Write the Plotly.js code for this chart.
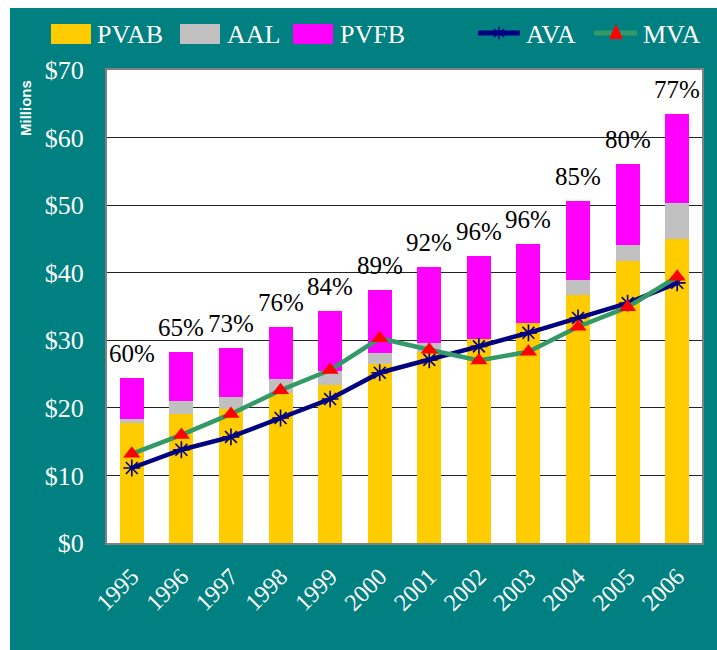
<!DOCTYPE html>
<html>
<head>
<meta charset="utf-8">
<script src="https://cdn.plot.ly/plotly-3.0.1.min.js"></script>
<style>
  html, body { margin: 0; padding: 0; background: #ffffff; }
  #chart { position: absolute; left: 10px; top: 8px; width: 707px; height: 642px; }
</style>
</head>
<body>
<div id="chart"></div>
<script>
// ---- data ($ millions) ----
var years = ['1995','1996','1997','1998','1999','2000','2001','2002','2003','2004','2005','2006'];
var pvab   = [17.7, 19.1, 19.8, 22.2, 23.4, 26.5, 28.2, 30.2, 32.5, 36.7, 41.7, 45.0];
var aalSeg = [0.65, 1.9, 1.8, 2.1, 2.1, 1.6, 1.4, 0.0, 0.0, 2.2, 2.4, 5.3];
var pvfbSeg= [6.05, 7.3, 7.3, 7.7, 8.8, 9.3, 11.2, 12.3, 11.8, 11.7, 12.0, 13.2];
var ava    = [11.1, 13.8, 15.7, 18.5, 21.3, 25.2, 27.1, 29.1, 31.1, 33.3, 35.5, 38.5];
var mva    = [13.2, 16.0, 19.1, 22.6, 25.6, 30.3, 28.6, 27.0, 28.3, 32.0, 34.9, 39.4];
var pctLabels = ['60%','65%','73%','76%','84%','89%','92%','96%','96%','85%','80%','77%'];
var yTicks = [0,10,20,30,40,50,60,70];

// ---- style ----
var TEAL = '#008080', GOLD = '#FFCC00', GRAY = '#C0C0C0', MAG = '#FF00FF';
var NAVY = '#000080', GREEN = '#339966', RED = '#FF0000';
var SERIF = 'Liberation Serif, Times New Roman, serif';

// layout geometry (div pixels)
var W = 707, H = 642, ML = 97, MR = 15, MT = 62, MB = 107;
var PW = W - ML - MR, PH = H - MT - MB;
// convert page pixel coords to paper coords
function toPX(x) { return (x - 10 - ML) / PW; }
function toPY(y) { return (H - MB - (y - 8)) / PH; }

var totals = pvab.map(function(v, i){ return v + aalSeg[i] + pvfbSeg[i]; });

var traces = [
  {type:'bar', name:'PVAB', x:years, y:pvab, marker:{color:GOLD}, hoverinfo:'skip'},
  {type:'bar', name:'AAL', x:years, y:aalSeg, marker:{color:GRAY}, hoverinfo:'skip'},
  {type:'bar', name:'PVFB', x:years, y:pvfbSeg, marker:{color:MAG}, hoverinfo:'skip'},
  {type:'scatter', mode:'lines+markers', name:'AVA', x:years, y:ava,
   line:{color:NAVY, width:4.5},
   marker:{symbol:'asterisk-open', size:14, color:NAVY, line:{color:NAVY, width:1.6}},
   hoverinfo:'skip', cliponaxis:false},
  {type:'scatter', mode:'lines+markers', name:'MVA', x:years, y:mva,
   line:{color:GREEN, width:4.5},
   marker:{symbol:'triangle-up', size:15, color:RED},
   hoverinfo:'skip', cliponaxis:false}
];

var annotations = years.map(function(yr, i){
  return {x: i, y: totals[i], xref:'x', yref:'y', text: pctLabels[i], showarrow:false,
          xanchor:'center', yanchor:'bottom', yshift: 9,
          font:{family:SERIF, size:25, color:'#000000'}};
});

// y-axis title "Millions"
annotations.push({xref:'paper', yref:'paper', x:toPX(25), y:toPY(108), text:'<b>Millions</b>',
  textangle:-90, showarrow:false, xanchor:'center', yanchor:'middle',
  font:{family:'Liberation Sans, Arial, sans-serif', size:15, color:'#ffffff'}});

// custom legend
var shapes = [];
function swatch(x0, x1, color) {
  shapes.push({type:'rect', xref:'paper', yref:'paper', x0:toPX(x0), x1:toPX(x1), y0:toPY(44), y1:toPY(24),
    fillcolor:color, line:{width:0}});
}
function legText(x, txt) {
  annotations.push({xref:'paper', yref:'paper', x:toPX(x), y:toPY(34), text:txt, showarrow:false,
    xanchor:'left', yanchor:'middle', font:{family:SERIF, size:26, color:'#ffffff'}});
}
swatch(51, 91, GOLD);   legText(95, 'PVAB');
swatch(180, 220, GRAY); legText(225, 'AAL');
swatch(293, 333, MAG);  legText(338, 'PVFB');
// AVA legend line + asterisk
shapes.push({type:'line', xref:'paper', yref:'paper', x0:toPX(478), x1:toPX(520), y0:toPY(33), y1:toPY(33),
  line:{color:NAVY, width:5}});
(function(){
  var cx = 499, cy = 33, r = 6.5;
  var segs = [[0,-r,0,r],[-r*0.8,-r*0.6,r*0.8,r*0.6],[-r*0.8,r*0.6,r*0.8,-r*0.6]];
  segs.forEach(function(s){
    shapes.push({type:'line', xref:'paper', yref:'paper', x0:toPX(cx+s[0]), y0:toPY(cy+s[1]),
      x1:toPX(cx+s[2]), y1:toPY(cy+s[3]), line:{color:NAVY, width:1.5}});
  });
})();
legText(524, 'AVA');
// MVA legend line + triangle
shapes.push({type:'line', xref:'paper', yref:'paper', x0:toPX(594), x1:toPX(637), y0:toPY(33), y1:toPY(33),
  line:{color:GREEN, width:5}});
shapes.push({type:'path', xref:'paper', yref:'paper',
  path:'M '+toPX(616)+' '+toPY(24)+' L '+toPX(623)+' '+toPY(39)+' L '+toPX(609)+' '+toPY(39)+' Z',
  fillcolor:RED, line:{width:0}});
legText(641, 'MVA');

var layout = {
  width: W, height: H,
  paper_bgcolor: TEAL, plot_bgcolor: '#ffffff',
  margin: {l:ML, r:MR, t:MT, b:MB, pad:0},
  barmode: 'stack', bargap: 0.516,
  showlegend: false,
  xaxis: {type:'category', categoryorder:'array', categoryarray:years,
          range:[-0.5, years.length - 0.5], autorange:false,
          tickangle:-45, showgrid:false, zeroline:false,
          showline:true, linecolor:'#808080', linewidth:2, mirror:true,
          ticks:'', ticklabelstandoff:8,
          tickfont:{family:SERIF, size:24, color:'#ffffff'}},
  yaxis: {range:[0,70], autorange:false, tickvals:yTicks, ticktext:yTicks.map(function(v){return '$'+v;}),
          showgrid:true, gridcolor:'#222222', gridwidth:1, zeroline:false,
          showline:true, linecolor:'#808080', linewidth:2, mirror:true,
          ticks:'', ticklabelstandoff:16,
          tickfont:{family:SERIF, size:26, color:'#ffffff'}},
  annotations: annotations,
  shapes: shapes
};

Plotly.newPlot('chart', traces, layout, {staticPlot:true, displayModeBar:false});
</script>
</body>
</html>
